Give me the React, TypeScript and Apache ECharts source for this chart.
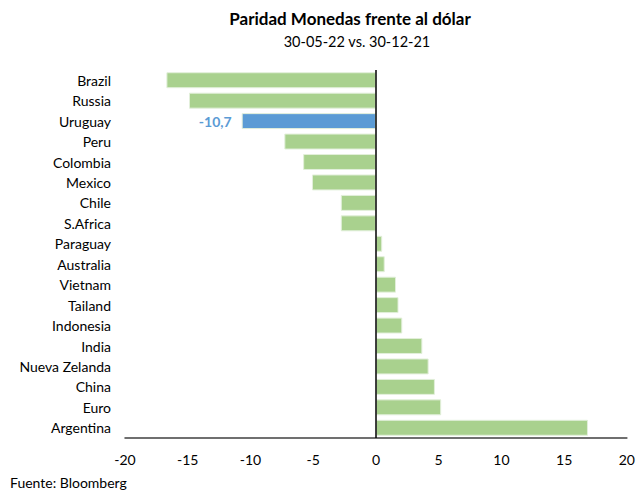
import React, { useEffect, useRef } from "react";
import * as echarts from "echarts";

const categories = [
  "Brazil", "Russia", "Uruguay", "Peru", "Colombia", "Mexico", "Chile", "S.Africa",
  "Paraguay", "Australia", "Vietnam", "Tailand", "Indonesia", "India", "Nueva Zelanda",
  "China", "Euro", "Argentina",
];
const values = [
  -16.7, -14.9, -10.7, -7.3, -5.8, -5.1, -2.8, -2.8,
  0.5, 0.7, 1.6, 1.8, 2.1, 3.7, 4.2, 4.7, 5.2, 16.9,
];
const highlight = "Uruguay";
const titleText = "Paridad Monedas frente al dólar";
const subtitleText = "30-05-22 vs. 30-12-21";
const sourceText = "Fuente: Bloomberg";

const FONT = "Lato, 'Open Sans', sans-serif";

export default function App() {
  const ref = useRef<HTMLDivElement>(null);
  useEffect(() => {
    if (!ref.current) return;
    const chart = echarts.init(ref.current, undefined, { renderer: "svg" });
    chart.setOption({
      animation: false,
      backgroundColor: "#ffffff",
      title: [
        {
          text: titleText,
          left: 350,
          top: 10,
          padding: 0,
          textAlign: "center",
          textStyle: { fontFamily: FONT, fontSize: 17, fontWeight: "bold", color: "#000" },
        },
        {
          text: subtitleText,
          left: 357,
          top: 34,
          padding: 0,
          textAlign: "center",
          textStyle: { fontFamily: FONT, fontSize: 14.5, fontWeight: "normal", color: "#000" },
        },
        {
          text: sourceText,
          left: 10,
          top: 475,
          padding: 0,
          textStyle: { fontFamily: FONT, fontSize: 14, fontWeight: "normal", color: "#000" },
        },
      ],
      grid: { left: 125, right: 7, top: 70, bottom: 56, containLabel: false },
      xAxis: {
        type: "value",
        min: -20,
        max: 20,
        interval: 5,
        axisLine: { show: true, onZero: false, lineStyle: { color: "#404040", width: 1.5 } },
        axisTick: { show: false },
        splitLine: { show: false },
        axisLabel: { fontFamily: FONT, fontSize: 14, color: "#000", margin: 14 },
      },
      yAxis: {
        type: "category",
        data: categories,
        inverse: true,
        axisLine: { show: false, onZero: false },
        axisTick: { show: false },
        axisLabel: { fontFamily: FONT, fontSize: 14, color: "#000", margin: 14 },
      },
      series: [
        {
          type: "bar",
          data: values.map((v, i) => ({
            value: v,
            itemStyle: { color: categories[i] === highlight ? "#5B9BD5" : "#A9D18E" },
            label:
              categories[i] === highlight
                ? {
                    show: true,
                    position: "left",
                    distance: 10,
                    formatter: () => String(v).replace(".", ","),
                    fontFamily: FONT,
                    fontSize: 14,
                    fontWeight: "bold",
                    color: "#5B9BD5",
                  }
                : { show: false },
          })),
          barCategoryGap: "22%",
          itemStyle: { borderColor: "#E2EFDA", borderWidth: 1 },
          markLine: {
            silent: true,
            symbol: "none",
            label: { show: false },
            lineStyle: { color: "#000", width: 1.5, type: "solid" },
            data: [{ xAxis: 0 }],
          },
        },
      ],
    });
    return () => chart.dispose();
  }, []);
  return <div ref={ref} style={{ width: 638, height: 494, position: "absolute", left: 0, top: 0 }} />;
}
